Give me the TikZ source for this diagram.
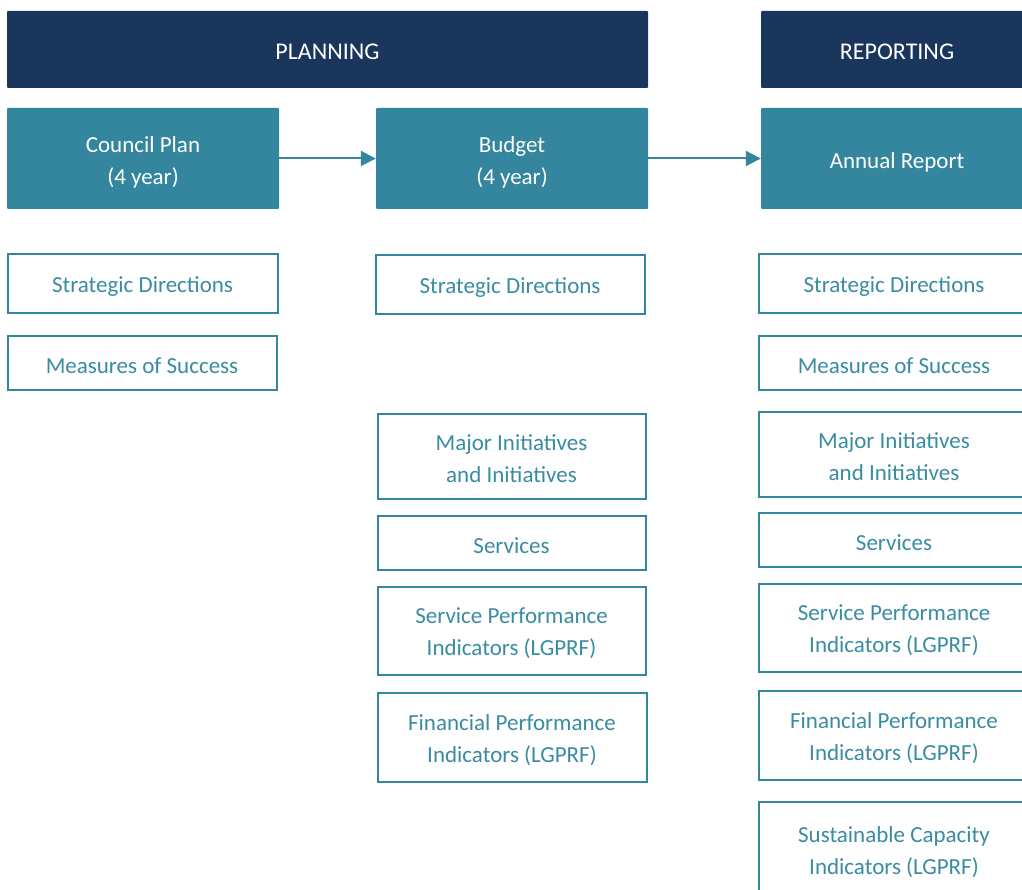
\documentclass[tikz,border=0pt]{standalone}
\usepackage{fontspec}
\setmainfont{Carlito}
\usetikzlibrary{arrows.meta}
\definecolor{navy}{HTML}{1B365D}
\definecolor{teal}{HTML}{33869D}
\definecolor{tealtext}{HTML}{3A8CA2}
\tikzset{
  hdrtext/.style={text=white, font=\fontsize{24}{32}\selectfont, align=center, inner sep=0pt, yshift=-2pt},
  doctext/.style={text=white, font=\fontsize{23}{32}\selectfont, align=center, inner sep=0pt, yshift=-3.5pt},
  itemtext/.style={text=tealtext, font=\fontsize{23}{32}\selectfont, align=center, inner sep=0pt, yshift=-3pt},
  hdr/.style={fill=navy, draw=none, inner sep=0pt, rounded corners=1pt, label={[hdrtext]center:{#1}}},
  docbox/.style={fill=teal, draw=none, inner sep=0pt, rounded corners=1pt, label={[doctext]center:{#1}}},
  itembox/.style={fill=white, draw=teal, line width=2pt, inner sep=0pt, label={[itemtext]center:{#1}}},
  flow/.style={draw=teal, line width=2pt, -{Triangle[length=15pt,width=15pt]}}
}
\begin{document}
\begin{tikzpicture}[x=1pt,y=-1pt]
\useasboundingbox (0,0) rectangle (1022,890);
\clip (0,0) rectangle (1022,890);
% headers
\node[hdr={PLANNING}, minimum width=641pt, minimum height=77pt] (plan) at (327.5,49.5) {};
\node[hdr={REPORTING}, minimum width=272pt, minimum height=77pt] (rep) at (897,49.5) {};
% document boxes
\node[docbox={Council Plan\\(4 year)}, minimum width=272pt, minimum height=101pt] (cp) at (143,158.5) {};
\node[docbox={Budget\\(4 year)}, minimum width=272pt, minimum height=101pt] (bud) at (512,158.5) {};
\node[docbox={Annual Report}, minimum width=272pt, minimum height=101pt] (ar) at (897,158.5) {};
\draw[flow] (cp.east) -- (bud.west);
\draw[flow] (bud.east) -- (ar.west);
% column 1
\node[itembox={Strategic Directions}, minimum width=270pt, minimum height=59pt] (c1a) at (142.5,284) {};
\node[itembox={Measures of Success}, minimum width=269pt, minimum height=53pt] (c1b) at (142,363) {};
% column 2
\node[itembox={Strategic Directions}, minimum width=269pt, minimum height=59pt] (c2a) at (510,285) {};
\node[itembox={Major Initiatives\\and Initiatives}, minimum width=268pt, minimum height=85pt] (c2b) at (511.5,456) {};
\node[itembox={Services}, minimum width=268pt, minimum height=54pt] (c2c) at (511.5,542.5) {};
\node[itembox={Service Performance\\Indicators (LGPRF)}, minimum width=268pt, minimum height=88pt] (c2d) at (511.5,630.5) {};
\node[itembox={Financial Performance\\Indicators (LGPRF)}, minimum width=269pt, minimum height=89pt] (c2e) at (512,737) {};
% column 3
\node[itembox={Strategic Directions}, minimum width=270pt, minimum height=59pt] (c3a) at (894,284) {};
\node[itembox={Measures of Success}, minimum width=270pt, minimum height=53pt] (c3b) at (894,363) {};
\node[itembox={Major Initiatives\\and Initiatives}, minimum width=270pt, minimum height=85pt] (c3c) at (894,454) {};
\node[itembox={Services}, minimum width=270pt, minimum height=54pt] (c3d) at (894,539.5) {};
\node[itembox={Service Performance\\Indicators (LGPRF)}, minimum width=270pt, minimum height=88pt] (c3e) at (894,627.5) {};
\node[itembox={Financial Performance\\Indicators (LGPRF)}, minimum width=270pt, minimum height=89pt] (c3f) at (894,735) {};
\node[itembox={}, minimum width=270pt, minimum height=100pt] (c3g) at (894,852) {};
\node[itemtext] (c3gt) at (894,849) {Sustainable Capacity\\Indicators (LGPRF)};
\end{tikzpicture}
\end{document}
